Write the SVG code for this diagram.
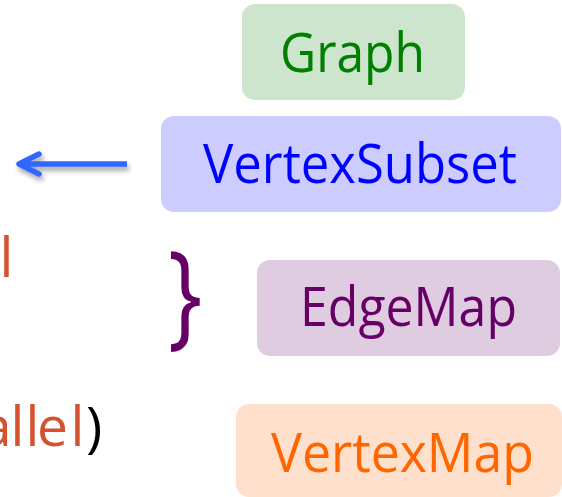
<svg xmlns="http://www.w3.org/2000/svg" width="562" height="497" viewBox="0 0 562 497">
  <defs>
    <filter id="shadow" x="-20%" y="-50%" width="140%" height="200%">
      <feDropShadow dx="2" dy="4" stdDeviation="2.5" flood-color="#000" flood-opacity="0.35"/>
    </filter>
  </defs>
  <style>
    text { font-family: "Open Sans", "Noto Sans", sans-serif; }
    .lbl { font-size: 54px; }
    .side { font-size: 55px; fill: #D35230; }
  </style>
  <rect width="562" height="497" fill="#ffffff"/>

  <!-- partial text on the left edge -->
  <text class="side" x="-0.5" y="277">l</text>
  <text class="side" y="446" x="-19 10.5 25.5 37 70.5 86">allel<tspan fill="#000000">)</tspan></text>

  <g id="graph">
    <rect x="242" y="4" width="223" height="96" rx="13" fill="#CDE5CD"/>
    <text class="lbl" x="280" y="72" fill="#008000" textLength="145" lengthAdjust="spacingAndGlyphs">Graph</text>
  </g>

  <g id="vertexsubset">
    <rect x="161" y="116" width="400" height="96" rx="13" fill="#CCCCFF"/>
    <text class="lbl" x="203" y="183" fill="#0000FF" textLength="314" lengthAdjust="spacingAndGlyphs">VertexSubset</text>
  </g>

  <g id="edgemap">
    <rect x="257" y="260" width="303" height="96" rx="13" fill="#E0CCE0"/>
    <text class="lbl" x="300" y="326" fill="#660066" textLength="217" lengthAdjust="spacingAndGlyphs">EdgeMap</text>
  </g>

  <g id="vertexmap">
    <rect x="236" y="404" width="326" height="93" rx="13" fill="#FFE0CC"/>
    <text class="lbl" x="271" y="472" fill="#FF6600" textLength="263" lengthAdjust="spacingAndGlyphs">VertexMap</text>
  </g>

  <g id="brace" transform="translate(168,0) scale(0.95,1.2)">
    <text x="0" y="278.3" font-size="96" fill="#660066">}</text>
  </g>

  <g id="connectors" filter="url(#shadow)" stroke="#3366FF" stroke-width="5.5" fill="none" stroke-linecap="round" stroke-linejoin="round">
    <line x1="127" y1="164" x2="22" y2="164" stroke-linecap="butt"/>
    <polyline points="39,154 19,164 39,174"/>
  </g>
</svg>
